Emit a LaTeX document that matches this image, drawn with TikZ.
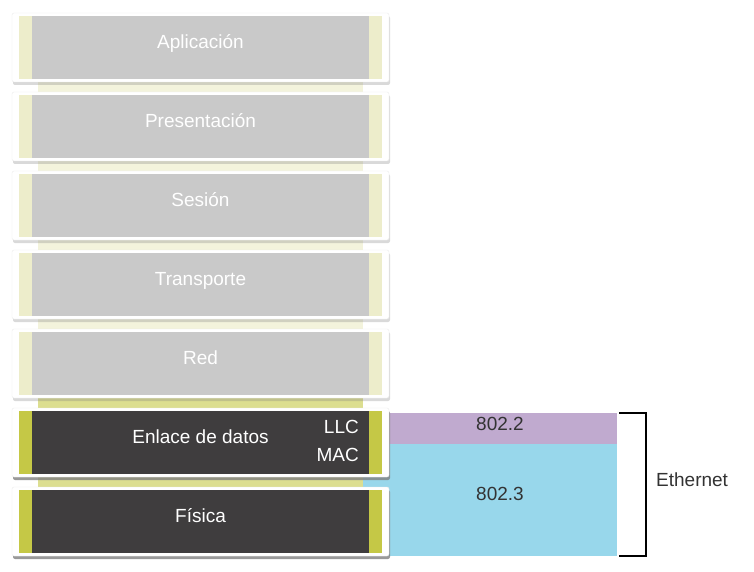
\documentclass[tikz,border=0pt]{standalone}
\usepackage{fontspec}
\setmainfont{Liberation Sans}
\usetikzlibrary{shadows}
\definecolor{sidelight}{HTML}{EDEDCB}
\definecolor{sidedark}{HTML}{C5C846}
\definecolor{bodylight}{HTML}{C9C9C9}
\definecolor{bodydark}{HTML}{3F3D3E}
\definecolor{striplight}{HTML}{F3F3DC}
\definecolor{stripdark}{HTML}{DCDE90}
\definecolor{llccol}{HTML}{C0AACF}
\definecolor{maccol}{HTML}{98D7EB}
\newcommand{\osilayer}[6]{%
\path[fill=white, draw=black!8, rounded corners=2pt, drop shadow={shadow xshift=1pt, shadow yshift=-3pt, opacity=#6}]
  (12,#1-3) rectangle (389,#1+66);
\fill[#4] (19,#1) rectangle (382,#1+63);
\fill[#5] (32,#1) rectangle (369,#1+63);
\node[layertext, anchor=base] (#2) at (200.5,#1+32.5) {#3};
}

\begin{document}
\begin{tikzpicture}[x=1pt,y=-1pt,
	layertext/.style={text=white,font=\fontsize{19}{22}\selectfont,inner sep=0pt},
	bandtext/.style={text=black!80,font=\fontsize{19}{22}\selectfont,inner sep=0pt,anchor=base}]
\useasboundingbox (0,0) rectangle (754,572);
% strips behind the cards
\fill[striplight] (38,60) rectangle (363,380);
\fill[stripdark] (38,380) rectangle (363,520);
\fill[llccol] (363,413) rectangle (617,444);
\fill[maccol] (363,444) rectangle (617,556);
% layers
\osilayer{16}{apl}{Aplicación}{sidelight}{bodylight}{.3}
\osilayer{95}{pre}{Presentación}{sidelight}{bodylight}{.3}
\osilayer{174}{ses}{Sesión}{sidelight}{bodylight}{.3}
\osilayer{253}{tra}{Transporte}{sidelight}{bodylight}{.3}
\osilayer{332}{red}{Red}{sidelight}{bodylight}{.3}
\osilayer{411}{enl}{Enlace de datos}{sidedark}{bodydark}{.8}
\osilayer{490}{fis}{Física}{sidedark}{bodydark}{.8}
\node[layertext, anchor=base east] (llc) at (359,433) {LLC};
\node[layertext, anchor=base east] (mac) at (359,461) {MAC};
% IEEE
\node[bandtext] (b8022) at (500,430.5) {802.2};
\node[bandtext] (b8023) at (500,500.5) {802.3};
\coordinate (brtop) at (619,413);
\coordinate (brbot) at (619,556);
\draw[line width=1.5pt] (brtop) -- ++(27,0) |- (brbot);
\node[bandtext, anchor=base west] (eth) at (656,486.5) {Ethernet};
\end{tikzpicture}
\end{document}
